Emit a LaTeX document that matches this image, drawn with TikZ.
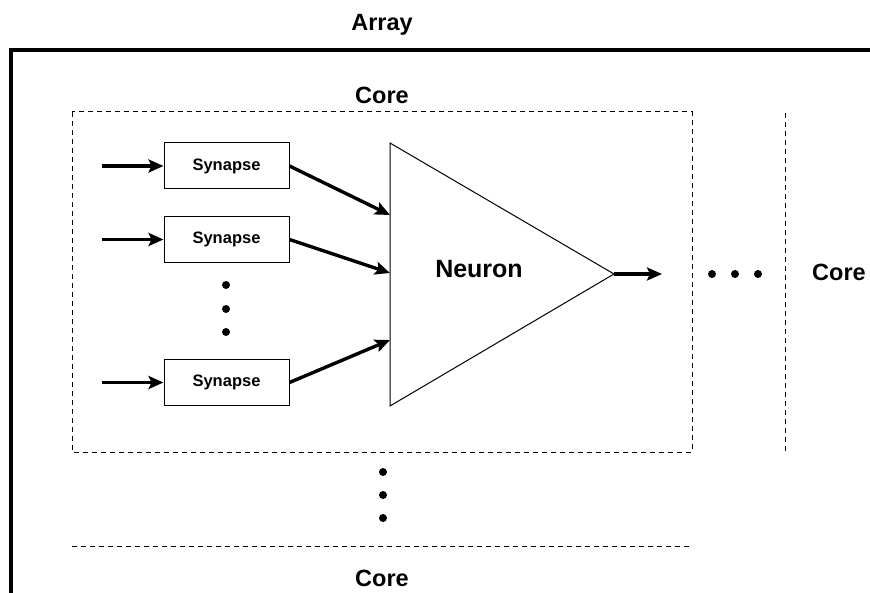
\documentclass[tikz,border=0pt]{standalone}
\usepackage{fontspec}
\setmainfont{Liberation Sans}
\usetikzlibrary{arrows.meta}
\begin{document}
\begin{tikzpicture}[x=1pt,y=-1pt,
  lbl/.style={font=\fontsize{23.5}{26}\selectfont\bfseries, inner sep=0, anchor=base},
  syn/.style={draw, line width=1pt, minimum width=125pt, minimum height=46pt,
    inner sep=0, font=\fontsize{16.5}{18}\selectfont\bfseries},
  wire/.style={line width=3.4pt, -{Stealth[length=15pt,width=13pt,inset=3pt]}},
  coreline/.style={line width=1pt, dash pattern=on 5pt off 4pt},
  dot/.style={circle, fill, inner sep=0, minimum size=8pt}]
\useasboundingbox (0,0) rectangle (870,593);

% array frame
\draw[line width=4pt, line join=miter] (10.5,593) -- (10.5,50.5) -- (870,50.5);
\node[lbl] (array) at (382,31) {Array};

% core outlines
\draw[coreline] (72,112) rectangle (692,452);
\node[lbl] (core1) at (382,104) {Core};
\draw[coreline] (785,113) -- (785,452);
\node[lbl] (core2) at (839,281) {Core};
\draw[coreline] (72,546) -- (692,546);
\node[lbl] (core3) at (382,586) {Core};

% synapses
\node[syn] (s1) at (226.5,166) {Synapse};
\node[syn] (s2) at (226.5,239.5) {Synapse};
\node[syn] (s3) at (226.5,382.5) {Synapse};

% input wires
\coordinate (a1) at (102,166);
\coordinate (a2) at (102,239.5);
\coordinate (a3) at (102,382.5);
\draw[wire] (a1) -- (s1.west);
\draw[wire] (a2) -- (s2.west);
\draw[wire] (a3) -- (s3.west);

% neuron
\coordinate (nt) at (390,143);
\coordinate (nb) at (390,406);
\coordinate (tip) at (614,274);
\draw[line width=1pt, line join=miter] (nt) -- (tip) -- (nb) -- cycle;
\node[lbl, font=\fontsize{25}{28}\selectfont\bfseries] (neuron) at (479,278) {Neuron};
\coordinate (in1) at (390,215);
\coordinate (in2) at (390,273);
\coordinate (in3) at (390,340);
\draw[wire] (s1.east) -- (in1);
\draw[wire] (s2.east) -- (in2);
\draw[wire] (s3.east) -- (in3);

% output
\coordinate (out) at (662,274);
\draw[wire] (tip) -- (out);

% ellipses
\node[dot] (h1) at (712,274) {};
\node[dot] (h2) at (735,274) {};
\node[dot] (h3) at (758,274) {};
\node[dot] (v1) at (226,285) {};
\node[dot] (v2) at (226,309) {};
\node[dot] (v3) at (226,332) {};
\node[dot] (b1) at (383,472) {};
\node[dot] (b2) at (383,495) {};
\node[dot] (b3) at (383,518) {};
\end{tikzpicture}
\end{document}
